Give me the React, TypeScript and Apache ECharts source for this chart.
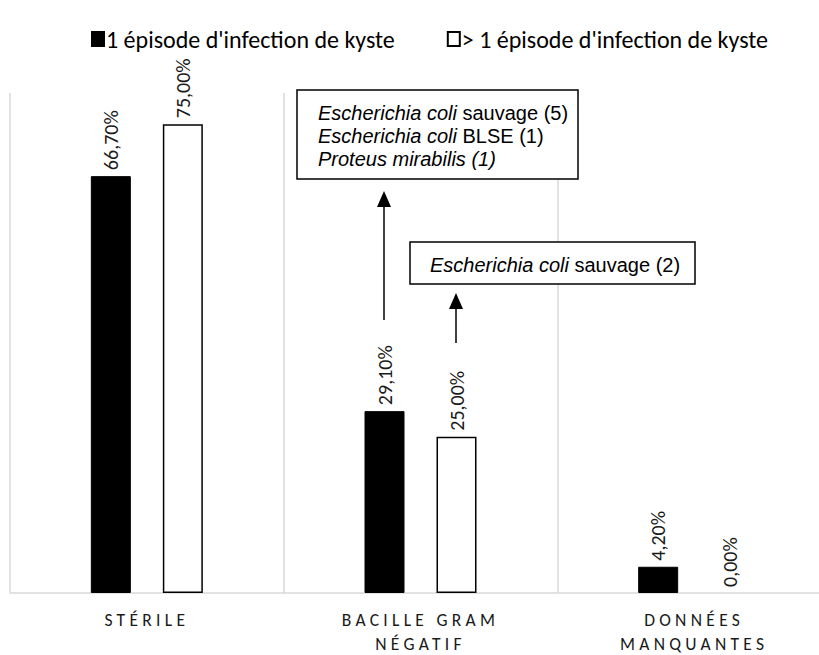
import React, { useEffect, useRef } from "react";
import * as echarts from "echarts";

const categories = ["STÉRILE", "BACILLE GRAM\nNÉGATIF", "DONNÉES\nMANQUANTES"];
const seriesNames = ["1 épisode d'infection de kyste", "> 1 épisode d'infection de kyste"];
const oneEpisode = [66.7, 29.1, 4.2];
const moreEpisodes = [75.0, 25.0, 0.0];
const box1Lines = [
  "{i|Escherichia coli}{n| sauvage (5)}",
  "{i|Escherichia coli}{n| BLSE (1)}",
  "{i|Proteus mirabilis (1)}",
];
const box2Lines = ["{i|Escherichia coli}{n| sauvage (2)}"];

const CAL = "Carlito, Lato, 'Noto Sans', sans-serif";
const ARIAL = "'Liberation Sans', Arial, sans-serif";

const fmt = (v: number) => v.toFixed(2).replace(".", ",") + "%";
const toData = (arr: number[]) =>
  arr.map((v) => (v === 0 ? { value: v, itemStyle: { borderWidth: 0 } } : v));

export default function App() {
  const ref = useRef<HTMLDivElement>(null);
  useEffect(() => {
    document.body.style.margin = "0";
    if (!ref.current) return;
    const chart = echarts.init(ref.current, undefined, { renderer: "svg" });
    const labelCfg = {
      show: true,
      position: "top",
      rotate: 90,
      align: "left",
      verticalAlign: "middle",
      distance: 6,
      fontFamily: CAL,
      fontSize: 20,
      color: "#1a1a1a",
      formatter: (p: any) => fmt(p.value),
    };
    const rich = {
      i: { fontStyle: "italic", fontFamily: ARIAL, fontSize: 20, lineHeight: 23, fill: "#000" },
      n: { fontStyle: "normal", fontFamily: ARIAL, fontSize: 20, lineHeight: 23, fill: "#000" },
    };
    chart.setOption({
      animation: false,
      legend: {
        data: seriesNames,
        left: 86,
        top: 22,
        icon: "rect",
        itemWidth: 12,
        itemHeight: 14,
        itemGap: 52,
        textStyle: { fontFamily: CAL, fontSize: 24, color: "#000", padding: [0, 0, 0, -3] },
      },
      grid: { left: 10, top: 93, width: 821, height: 500, containLabel: false, outerBoundsMode: "none" },
      xAxis: {
        type: "category",
        data: categories,
        boundaryGap: true,
        axisLine: { lineStyle: { color: "#d9d9d9", width: 1.5 } },
        axisTick: { show: false },
        splitLine: { show: true, lineStyle: { color: "#d9d9d9", width: 1.5 } },
        axisLabel: {
          margin: 15,
          fontFamily: CAL,
          fontSize: 17.5,
          lineHeight: 24,
          color: "#1a1a1a",
          interval: 0,
        },
      },
      yAxis: {
        type: "value",
        min: 0,
        max: 80,
        show: false,
        splitLine: { show: false },
      },
      series: [
        {
          name: seriesNames[0],
          type: "bar",
          data: toData(oneEpisode),
          barWidth: 40,
          barGap: "80%",
          itemStyle: { color: "#000", borderColor: "#000", borderWidth: 1 },
          label: labelCfg,
        },
        {
          name: seriesNames[1],
          type: "bar",
          data: toData(moreEpisodes),
          barWidth: 40,
          itemStyle: { color: "#fff", borderColor: "#000", borderWidth: 1.5 },
          label: labelCfg,
        },
      ],
      graphic: [
        {
          type: "rect",
          shape: { x: 297, y: 90, width: 281, height: 89 },
          style: { fill: "#fff", stroke: "#000", lineWidth: 1.5 },
          z: 10,
        },
        {
          type: "text",
          x: 318,
          y: 101,
          z: 11,
          style: { text: box1Lines.join("\n"), rich, fontFamily: ARIAL, fontSize: 20, lineHeight: 23, fill: "#000" },
        },
        {
          type: "rect",
          shape: { x: 410, y: 242, width: 285, height: 42 },
          style: { fill: "#fff", stroke: "#000", lineWidth: 1.5 },
          z: 10,
        },
        {
          type: "text",
          x: 430,
          y: 253,
          z: 11,
          style: { text: box2Lines.join("\n"), rich, fontFamily: ARIAL, fontSize: 20, lineHeight: 23, fill: "#000" },
        },
        {
          type: "line",
          shape: { x1: 384, y1: 205, x2: 384, y2: 320 },
          style: { stroke: "#000", lineWidth: 1.5 },
          z: 10,
        },
        {
          type: "polygon",
          shape: { points: [[384, 191], [377, 207], [391, 207]] },
          style: { fill: "#000" },
          z: 10,
        },
        {
          type: "line",
          shape: { x1: 456, y1: 307, x2: 456, y2: 343 },
          style: { stroke: "#000", lineWidth: 1.5 },
          z: 10,
        },
        {
          type: "polygon",
          shape: { points: [[456, 293], [449, 309], [463, 309]] },
          style: { fill: "#000" },
          z: 10,
        },
      ],
    });
    const spaced = new Set(["STÉRILE", "BACILLE GRAM", "NÉGATIF", "DONNÉES", "MANQUANTES"]);
    ref.current.querySelectorAll("text").forEach((t) => {
      const s = (t.textContent || "").trim();
      if (spaced.has(s)) {
        (t as SVGTextElement).style.letterSpacing = "4.3px";
      }
    });
    return () => chart.dispose();
  }, []);
  return <div ref={ref} style={{ width: 819, height: 655 }} />;
}
